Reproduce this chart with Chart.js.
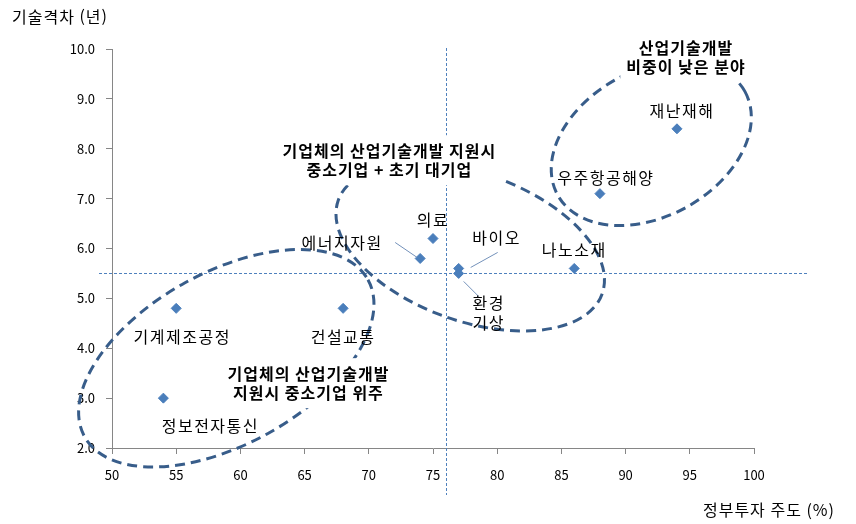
<!DOCTYPE html>
<html lang="ko">
<head>
<meta charset="utf-8">
<title>기술격차 vs 정부투자 주도</title>
<script src="https://cdn.jsdelivr.net/npm/chart.js@4.4.1/dist/chart.umd.min.js"></script>
<style>
  html, body { margin: 0; padding: 0; background: #fff; }
  #wrap { width: 856px; height: 524px; position: relative; }
</style>
</head>
<body>
<div id="wrap"><canvas id="gapChart" width="856" height="524"></canvas></div>
<script>
// ===== DATA =====
const fields   = ["기계제조공정", "정보전자통신", "건설교통", "에너지자원", "의료", "바이오", "환경\n기상", "나노소재", "우주항공해양", "재난재해"];
const govShare = [55, 54, 68, 74, 75, 77, 77, 86, 88, 94];              // 정부투자 주도 (%)
const techGap  = [4.8, 3.0, 4.8, 5.8, 6.2, 5.6, 5.5, 5.6, 7.1, 8.4];   // 기술격차 (년)

const xTicks = [50, 55, 60, 65, 70, 75, 80, 85, 90, 95, 100];
const yTicks = [2, 3, 4, 5, 6, 7, 8, 9, 10];

// reference lines (averages)
const refX = [76];
const refY = [5.5];

// groups (dashed ellipses)
const groupTitles  = ["기업체의 산업기술개발\n지원시 중소기업 위주", "기업체의 산업기술개발 지원시\n중소기업 + 초기 대기업", "산업기술개발\n비중이 낮은 분야"];
const groupCenterX = [58.9, 77.9, 92.0];
const groupCenterY = [3.8, 6.03, 8.11];

// ===== LAYOUT / STYLE (not data) =====
const FONT = "'Noto Sans CJK KR', 'Noto Sans', sans-serif";

// label offset from each point, px
const labelOffsets = [
  [6, 29], [47, 28], [0, 29], [-78, -16], [0, -19],
  [38, -31], [30, 29], [0, -19], [6, -16], [5, -18]
];
// leader lines: [from dx, dy, to dx, dy] relative to point, or null
const leaders = [
  null, null, null, [-25, -16, -3, -1], null,
  [12, -1, 39, -16], [5, 8, 20, 23], null, null, null
];
// ellipse shapes: radius a, radius b, rotation (deg)
const ellipseShapes = [
  [162, 86, -29],
  [140, 74, 19.5],
  [107, 73, -29]
];
// group title position, data coords
const titlePosX = [65.3, 71.6, 94.7];
const titlePosY = [3.3, 7.77, 9.84];

const annotations = {
  id: "annotations",
  beforeDatasetsDraw(chart) {
    const ctx = chart.ctx;
    const xs = chart.scales.x, ys = chart.scales.y;

    // dashed average lines
    ctx.save();
    ctx.strokeStyle = "#4F81BD";
    ctx.lineWidth = 1;
    ctx.setLineDash([3, 2]);
    refX.forEach(v => {
      const px = Math.round(xs.getPixelForValue(v)) + 0.5;
      ctx.beginPath();
      ctx.moveTo(px, chart.chartArea.top - 1);
      ctx.lineTo(px, chart.chartArea.bottom + 47);
      ctx.stroke();
    });
    refY.forEach(v => {
      const py = Math.round(ys.getPixelForValue(v)) + 0.5;
      ctx.beginPath();
      ctx.moveTo(chart.chartArea.left - 13, py);
      ctx.lineTo(chart.chartArea.right + 54, py);
      ctx.stroke();
    });
    ctx.restore();

    // group ellipses
    groupCenterX.forEach((gx, i) => {
      const [a, b, deg] = ellipseShapes[i];
      ctx.save();
      ctx.translate(xs.getPixelForValue(gx), ys.getPixelForValue(groupCenterY[i]));
      ctx.rotate(deg * Math.PI / 180);
      ctx.beginPath();
      ctx.ellipse(0, 0, a, b, 0, 0, Math.PI * 2);
      ctx.setLineDash([10, 6]);
      ctx.lineWidth = 3;
      ctx.strokeStyle = "#385D8A";
      ctx.stroke();
      ctx.restore();
    });

    // group titles on white boxes
    ctx.save();
    ctx.font = "bold 16px " + FONT;
    ctx.letterSpacing = "1px";
    ctx.textAlign = "center";
    ctx.textBaseline = "middle";
    groupTitles.forEach((t, i) => {
      const lines = t.split("\n");
      const cx = xs.getPixelForValue(titlePosX[i]);
      const cy = ys.getPixelForValue(titlePosY[i]);
      const lh = 19;
      const w = Math.max(...lines.map(l => ctx.measureText(l).width));
      const h = lh * lines.length;
      ctx.fillStyle = "#fff";
      ctx.fillRect(cx - w / 2 - 6, cy - h / 2 - 6, w + 12, h + 12);
      ctx.fillStyle = "#000";
      lines.forEach((l, k) => {
        ctx.fillText(l, cx, cy - h / 2 + lh / 2 + k * lh);
      });
    });
    ctx.restore();
  },
  afterDatasetsDraw(chart) {
    const ctx = chart.ctx;
    const meta = chart.getDatasetMeta(0);
    ctx.save();
    ctx.font = "16px " + FONT;
    ctx.letterSpacing = "1.5px";
    ctx.textAlign = "center";
    ctx.textBaseline = "middle";
    meta.data.forEach((pt, i) => {
      const ld = leaders[i];
      if (ld) {
        ctx.strokeStyle = "#7391BA";
        ctx.lineWidth = 1;
        ctx.beginPath();
        ctx.moveTo(pt.x + ld[0], pt.y + ld[1]);
        ctx.lineTo(pt.x + ld[2], pt.y + ld[3]);
        ctx.stroke();
      }
      const [dx, dy] = labelOffsets[i];
      ctx.fillStyle = "#000";
      fields[i].split("\n").forEach((l, k) => {
        ctx.fillText(l, pt.x + dx, pt.y + dy + k * 20);
      });
    });
    ctx.restore();
  },
  afterDraw(chart) {
    const ctx = chart.ctx;
    ctx.save();
    ctx.font = "16px " + FONT;
    ctx.letterSpacing = "1px";
    ctx.fillStyle = "#000";
    ctx.textBaseline = "middle";
    ctx.textAlign = "left";
    ctx.fillText("기술격차 (년)", 12, 17);
    ctx.textAlign = "right";
    ctx.fillText("정부투자 주도 (%)", 835, 510);
    ctx.restore();
  }
};

const ctx = document.getElementById("gapChart");
new Chart(ctx, {
  type: "scatter",
  data: {
    datasets: [{
      label: "분야",
      data: govShare.map((x, i) => ({ x: x, y: techGap[i] })),
      pointStyle: "rectRot",
      pointRadius: 5,
      pointHoverRadius: 5,
      backgroundColor: "#4A7EBB",
      borderColor: "#4A7EBB",
      borderWidth: 1
    }]
  },
  options: {
    responsive: false,
    animation: false,
    layout: { padding: { left: 0, top: 49, right: 102, bottom: 36 } },
    plugins: {
      legend: { display: false },
      tooltip: { enabled: false }
    },
    scales: {
      x: {
        type: "linear",
        min: 50,
        max: 100,
        afterBuildTicks: s => { s.ticks = xTicks.map(v => ({ value: v })); },
        afterFit: s => { s.height = 40; },
        grid: { drawOnChartArea: false, drawTicks: true, tickLength: 6, color: "#868686" },
        border: { color: "#868686" },
        ticks: { padding: 13, color: "#000", font: { family: FONT, size: 13 } }
      },
      y: {
        type: "linear",
        min: 2,
        max: 10,
        afterBuildTicks: s => { s.ticks = yTicks.map(v => ({ value: v })); },
        afterFit: s => { s.width = 112; },
        grid: { drawOnChartArea: false, drawTicks: true, tickLength: 6, color: "#868686" },
        border: { color: "#868686" },
        ticks: {
          padding: 11,
          color: "#000",
          font: { family: FONT, size: 13 },
          callback: v => v.toFixed(1)
        }
      }
    }
  },
  plugins: [annotations]
});
</script>
</body>
</html>
